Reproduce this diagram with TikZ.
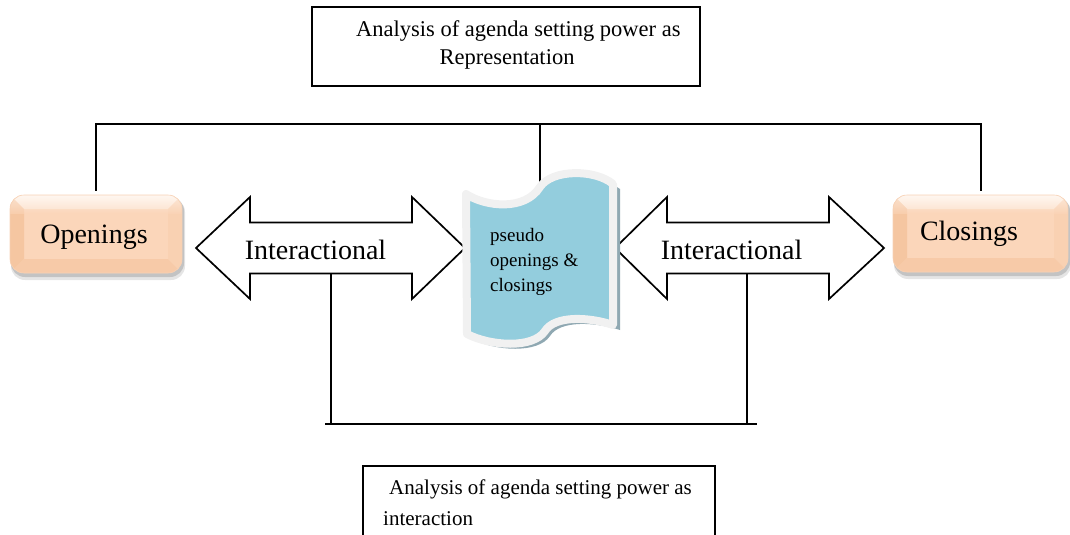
\documentclass[tikz,border=0pt]{standalone}
\usepackage{fontspec}
\setmainfont{Liberation Serif}
\definecolor{bvC}{HTML}{FBD6BA}
\definecolor{bvT}{HTML}{FEEEE1}
\definecolor{bvL}{HTML}{F5C6A1}
\definecolor{bvR}{HTML}{F9D1B2}
\definecolor{bvB}{HTML}{F7CAA8}
\definecolor{tapeblue}{HTML}{93CDDD}
\definecolor{tapeedge}{HTML}{F1F1F1}
\definecolor{tapeshadow}{HTML}{8FA8B2}
\newcommand\bevelbox[4]{%
  \fill[black,opacity=0.10,rounded corners=14pt] (#1+1,#2+3) rectangle (#3+3,#4+7);
  \fill[black,opacity=0.15,rounded corners=14pt] (#1+1,#2+2) rectangle (#3+2,#4+4);
  \begin{scope}
    \clip[rounded corners=14pt] (#1,#2) rectangle (#3,#4);
    \fill[bvC] (#1,#2) rectangle (#3,#4);
    \fill[bvT] (#1,#2) -- (#3,#2) -- (#3-14,#2+14) -- (#1+14,#2+14) -- cycle;
    \fill[bvL] (#1,#2) -- (#1+14,#2+14) -- (#1+14,#4-14) -- (#1,#4) -- cycle;
    \fill[bvR] (#3,#2) -- (#3-14,#2+14) -- (#3-14,#4-14) -- (#3,#4) -- cycle;
    \fill[bvB] (#1,#4) -- (#1+14,#4-14) -- (#3-14,#4-14) -- (#3,#4) -- cycle;
    \shade[top color=white,bottom color=bvC,opacity=0.5] (#1,#2) rectangle (#3,#2+18);
  \end{scope}
  \draw[bvL!80!white,line width=0.6pt,rounded corners=14pt] (#1,#2) rectangle (#3,#4);}
\begin{document}
\begin{tikzpicture}[x=1pt,y=-1pt,
  conn/.style={line width=2pt,black},
  boxline/.style={line width=2pt,black},
  arrowshape/.style={line width=1.7pt,draw=black,fill=white,line join=miter},
  bigtxt/.style={font=\fontsize{28}{33}\selectfont,inner sep=0pt},
  midtxt/.style={font=\fontsize{22.5}{27}\selectfont,inner sep=0pt},
  smalltxt/.style={font=\fontsize{21}{27}\selectfont,inner sep=0pt},
  tapetxt/.style={font=\fontsize{19}{25}\selectfont,inner sep=0pt,anchor=base west}]
\useasboundingbox (0,0) rectangle (1070,535);

% top box
\node[boxline,draw,minimum width=388pt,minimum height=79pt,inner sep=0pt] (rep) at (506,46.5) {};
\node[midtxt,anchor=base west] (rep1) at (356,37) {Analysis of agenda setting power as};
\node[midtxt,anchor=base] (rep2) at (507,64) {Representation};

% side boxes
\bevelbox{10}{195}{182}{273}
\bevelbox{893}{195}{1068}{272}
\node[minimum width=172pt,minimum height=78pt,inner sep=0pt] (open) at (96,234) {};
\node[minimum width=175pt,minimum height=77pt,inner sep=0pt] (close) at (980.5,233.5) {};
\node[bigtxt,anchor=base] (opentxt) at (94,243) {Openings};
\node[bigtxt,anchor=base] (closetxt) at (969,240) {Closings};

% top bracket
\coordinate (ptop) at (540,189);
\coordinate (pbar) at (540,124);
\draw[conn] ([yshift=4pt]open.north) |- (pbar) -| ([yshift=4pt]close.north);
\draw[conn] (pbar) -- (ptop);

% double arrows
\draw[arrowshape] (196,248) -- (250,197) -- (250,222.5) -- (412,222.5) -- (412,197) -- (465,248)
  -- (412,299) -- (412,273.5) -- (250,273.5) -- (250,299) -- cycle;
\draw[arrowshape] (615,248) -- (667,197) -- (667,222.5) -- (829,222.5) -- (829,197) -- (884,248)
  -- (829,299) -- (829,273.5) -- (667,273.5) -- (667,299) -- cycle;
\node[bigtxt,anchor=base] (lint) at (315.5,259) {Interactional};
\node[bigtxt,anchor=base] (rint) at (731.5,259) {Interactional};

% bottom bracket
\coordinate (lbot) at (331,273.5);
\coordinate (rbot) at (747,273.5);
\coordinate (lcorner) at (331,424);
\coordinate (rcorner) at (747,424);
\coordinate (bl) at (325,424);
\coordinate (br) at (757,424);
\draw[conn] (lbot) -- (lcorner);
\draw[conn] (rbot) -- (rcorner);
\draw[conn] (bl) -- (br);

% pseudo tape shape
\fill[tapeshadow] (470,199) .. controls (490,212) and (530,216) .. (545,192)
  .. controls (557,174) and (600,174) .. (620,189) -- (620,330)
  .. controls (595,322) and (560,320) .. (550,336)
  .. controls (538,354) and (495,351) .. (472,339) -- cycle;
\draw[tapeedge,line width=8pt,fill=tapeblue,line join=round]
  (466,194) .. controls (486,207) and (525,211) .. (540,187)
  .. controls (552,169) and (595,169) .. (613,184) -- (613,325)
  .. controls (590,317) and (555,315) .. (545,331)
  .. controls (533,349) and (490,346) .. (467,334) -- cycle;
\node[inner sep=0pt,minimum width=147pt,minimum height=140pt] (pseudo) at (540,259) {};
\begin{scope}
  \clip (470,215) rectangle (612,294);
  \node[tapetxt] (ps1) at (490,241) {pseudo};
  \node[tapetxt] (ps2) at (490,266) {openings \&};
  \node[tapetxt] (ps3) at (490,291) {closings};
\end{scope}

% bottom box
\coordinate (ib1) at (362.5,540);
\coordinate (ib2) at (715,540);
\draw[boxline] (ib1) |- (538.75,465.5) -| (ib2);
\node[smalltxt,anchor=base west] (int1) at (389,494) {Analysis of agenda setting power as};
\node[smalltxt,anchor=base west] (int2) at (383,525) {interaction};
\end{tikzpicture}
\end{document}
